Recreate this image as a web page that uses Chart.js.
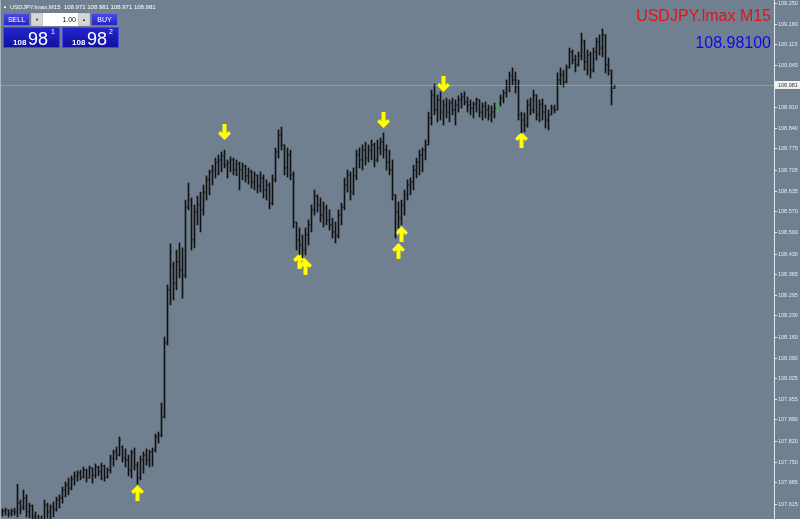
<!DOCTYPE html>
<html>
<head>
<meta charset="utf-8">
<script src="https://cdn.jsdelivr.net/npm/chart.js@4.4.0/dist/chart.umd.min.js"></script>
<style>
html, body { margin: 0; padding: 0; background: #708090; }
#wrap { position: relative; width: 800px; height: 519px; overflow: hidden; background: #708090; font-family: "Liberation Sans", Arial, sans-serif; }
#wrap canvas { position: absolute; left: 0; top: 0; }
#edge { position: absolute; left: 0; top: 0; width: 1px; height: 519px; background: #a9b4bf; }
#hdr { position: absolute; left: 3px; top: 3px; font-size: 6px; line-height: 7px; color: #fff; white-space: pre; }
#hdr .tri { font-size: 4px; margin-right: 3px; vertical-align: 1px; }
.btn { position: absolute; top: 13px; width: 27px; height: 13px; box-sizing: border-box; border: 1px solid #6b6bf2; background: linear-gradient(#4a4ae8, #2424c6); color: #fff; font-size: 7px; line-height: 11px; text-align: center; }
#sell { left: 3px; }
#buy { left: 91px; }
#vol { position: absolute; left: 31px; top: 13px; width: 59px; height: 13px; background: #c9c9c9; }
.spin { position: absolute; top: 1px; width: 10px; height: 11px; background: #d6d6d6; color: #222; font-size: 4px; line-height: 11px; text-align: center; }
#vfield { position: absolute; left: 12px; top: 0; width: 35px; height: 13px; box-sizing: border-box; padding-right: 2px; background: #fff; color: #111; font-size: 7px; line-height: 13px; text-align: right; }
.pbox { position: absolute; top: 27px; width: 57px; height: 21px; box-sizing: border-box; border: 1px solid #4a4ae2; background: linear-gradient(#2424cc, #1111a0); color: #fff; }
.pbox span { position: absolute; white-space: nowrap; }
.pbox .s { top: 11px; font-size: 8px; line-height: 8px; font-weight: bold; }
.pbox .b { top: 2px; font-size: 18px; line-height: 18px; }
.pbox .u { top: 0px; font-size: 7px; line-height: 7px; }
#sym { position: absolute; right: 29px; top: 8px; font-size: 16px; line-height: 16px; color: #e0141e; white-space: nowrap; }
#bid { position: absolute; right: 29px; top: 35px; font-size: 16px; line-height: 16px; color: #0a0ae6; white-space: nowrap; }
</style>
</head>
<body>
<div id="wrap">
  <canvas id="myChart"></canvas>
  <div id="edge"></div>
  <div id="hdr"><span class="tri">▲</span>USDJPY.lmax,M15  108.971 108.981 108.971 108.981</div>
  <div class="btn" id="sell">SELL</div>
  <div id="vol"><div class="spin" style="left:1px">▼</div><div id="vfield">1.00</div><div class="spin" style="left:48px">▲</div></div>
  <div class="btn" id="buy">BUY</div>
  <div class="pbox" style="left:3px"><span class="s" style="left:9px">108</span><span class="b" style="left:24px">98</span><span class="u" style="left:47px">1</span></div>
  <div class="pbox" style="left:62px"><span class="s" style="left:9px">108</span><span class="b" style="left:24px">98</span><span class="u" style="left:46px">2</span></div>
  <div id="sym">USDJPY.lmax M15</div>
  <div id="bid">108.98100</div>
</div>
<script>
// M15 bars, oldest first
let opens = [
  107.589, 107.592, 107.596, 107.586, 107.592, 107.589, 107.618, 107.605, 107.635, 107.592,
  107.609, 107.576, 107.553, 107.563, 107.560, 107.612, 107.589, 107.605, 107.599, 107.628,
  107.635, 107.661, 107.677, 107.667, 107.697, 107.707, 107.716, 107.703, 107.726, 107.700,
  107.733, 107.710, 107.736, 107.720, 107.739, 107.703, 107.726, 107.765, 107.785, 107.775,
  107.801, 107.765, 107.759, 107.726, 107.782, 107.742, 107.700, 107.759, 107.775, 107.759,
  107.785, 107.791, 107.834, 107.840, 107.899, 108.141, 108.314, 108.395, 108.336, 108.405,
  108.379, 108.363, 108.584, 108.607, 108.477, 108.568, 108.591, 108.575, 108.633, 108.673,
  108.699, 108.705, 108.731, 108.738, 108.751, 108.721, 108.728, 108.738, 108.705, 108.725,
  108.705, 108.718, 108.686, 108.699, 108.666, 108.689, 108.653, 108.679, 108.640, 108.656,
  108.597, 108.673, 108.764, 108.819, 108.787, 108.712, 108.754, 108.689, 108.535, 108.477,
  108.460, 108.444, 108.493, 108.526, 108.575, 108.620, 108.591, 108.558, 108.581, 108.542,
  108.526, 108.503, 108.490, 108.558, 108.584, 108.656, 108.689, 108.633, 108.686, 108.754,
  108.738, 108.770, 108.744, 108.770, 108.787, 108.738, 108.777, 108.796, 108.770, 108.731,
  108.705, 108.624, 108.568, 108.548, 108.591, 108.624, 108.656, 108.666, 108.705, 108.731,
  108.754, 108.770, 108.787, 108.875, 108.950, 108.901, 108.934, 108.894, 108.917, 108.894,
  108.924, 108.901, 108.917, 108.934, 108.943, 108.927, 108.917, 108.907, 108.920, 108.934,
  108.894, 108.914, 108.901, 108.885, 108.894, 108.894, 108.924, 108.940, 108.956, 108.982,
  109.012, 108.999, 108.979, 108.885, 108.868, 108.852, 108.917, 108.901, 108.950, 108.885,
  108.920, 108.894, 108.868, 108.885, 108.907, 108.901, 108.999, 109.015, 108.992, 109.038,
  109.090, 109.064, 109.048, 109.077, 109.123, 109.058, 109.080, 109.031, 109.090, 109.123,
  109.103, 109.146, 109.048, 109.031, 108.971
];
let highs = [
  107.599, 107.602, 107.596, 107.599, 107.602, 107.680, 107.628, 107.661, 107.645, 107.618,
  107.612, 107.589, 107.579, 107.576, 107.628, 107.618, 107.612, 107.622, 107.638, 107.645,
  107.671, 107.687, 107.700, 107.707, 107.720, 107.723, 107.726, 107.736, 107.729, 107.739,
  107.733, 107.746, 107.739, 107.749, 107.742, 107.733, 107.775, 107.791, 107.801, 107.834,
  107.805, 107.795, 107.775, 107.791, 107.798, 107.752, 107.772, 107.785, 107.795, 107.791,
  107.798, 107.844, 107.850, 107.945, 108.160, 108.330, 108.464, 108.405, 108.444, 108.467,
  108.451, 108.607, 108.663, 108.614, 108.591, 108.620, 108.633, 108.656, 108.686, 108.705,
  108.721, 108.744, 108.754, 108.764, 108.770, 108.738, 108.748, 108.744, 108.738, 108.731,
  108.728, 108.721, 108.712, 108.705, 108.699, 108.689, 108.699, 108.689, 108.673, 108.663,
  108.689, 108.777, 108.836, 108.845, 108.787, 108.777, 108.770, 108.699, 108.535, 108.516,
  108.493, 108.516, 108.542, 108.591, 108.640, 108.624, 108.614, 108.601, 108.591, 108.575,
  108.548, 108.535, 108.575, 108.597, 108.679, 108.705, 108.699, 108.712, 108.770, 108.777,
  108.787, 108.796, 108.787, 108.803, 108.793, 108.803, 108.810, 108.826, 108.787, 108.770,
  108.738, 108.624, 108.601, 108.607, 108.640, 108.673, 108.679, 108.721, 108.744, 108.770,
  108.777, 108.803, 108.894, 108.966, 108.986, 108.950, 108.960, 108.934, 108.940, 108.934,
  108.940, 108.934, 108.947, 108.956, 108.960, 108.943, 108.934, 108.927, 108.940, 108.934,
  108.924, 108.927, 108.917, 108.914, 108.924, 108.927, 108.950, 108.966, 108.999, 109.025,
  109.038, 109.025, 108.999, 108.894, 108.891, 108.934, 108.940, 108.966, 108.950, 108.934,
  108.937, 108.917, 108.901, 108.917, 108.917, 109.022, 109.038, 109.031, 109.048, 109.103,
  109.097, 109.080, 109.090, 109.152, 109.129, 109.097, 109.090, 109.103, 109.136, 109.146,
  109.165, 109.146, 109.071, 109.031, 108.981
];
let lows = [
  107.576, 107.579, 107.573, 107.576, 107.579, 107.573, 107.583, 107.596, 107.573, 107.570,
  107.557, 107.537, 107.530, 107.537, 107.557, 107.570, 107.566, 107.573, 107.592, 107.602,
  107.618, 107.638, 107.645, 107.661, 107.677, 107.690, 107.694, 107.700, 107.687, 107.700,
  107.684, 107.700, 107.707, 107.694, 107.690, 107.700, 107.716, 107.739, 107.759, 107.772,
  107.752, 107.736, 107.707, 107.700, 107.726, 107.680, 107.694, 107.716, 107.742, 107.736,
  107.739, 107.785, 107.814, 107.834, 107.896, 108.134, 108.265, 108.281, 108.314, 108.353,
  108.287, 108.353, 108.575, 108.444, 108.451, 108.526, 108.503, 108.558, 108.607, 108.624,
  108.656, 108.679, 108.689, 108.699, 108.712, 108.679, 108.699, 108.689, 108.686, 108.640,
  108.673, 108.666, 108.659, 108.646, 108.640, 108.630, 108.633, 108.614, 108.607, 108.578,
  108.591, 108.666, 108.744, 108.770, 108.689, 108.682, 108.673, 108.516, 108.444, 108.428,
  108.418, 108.428, 108.460, 108.503, 108.558, 108.568, 108.535, 108.519, 108.526, 108.509,
  108.483, 108.467, 108.483, 108.526, 108.575, 108.633, 108.607, 108.624, 108.673, 108.712,
  108.705, 108.721, 108.731, 108.738, 108.715, 108.731, 108.754, 108.744, 108.705, 108.689,
  108.607, 108.483, 108.516, 108.526, 108.558, 108.607, 108.624, 108.640, 108.679, 108.689,
  108.699, 108.738, 108.787, 108.852, 108.885, 108.862, 108.868, 108.852, 108.875, 108.862,
  108.885, 108.852, 108.894, 108.907, 108.917, 108.894, 108.885, 108.875, 108.894, 108.878,
  108.868, 108.875, 108.868, 108.862, 108.875, 108.891, 108.914, 108.924, 108.943, 108.960,
  108.982, 108.956, 108.868, 108.826, 108.829, 108.845, 108.885, 108.891, 108.868, 108.862,
  108.868, 108.842, 108.836, 108.885, 108.891, 108.901, 108.982, 108.976, 108.989, 109.038,
  109.051, 109.025, 109.044, 109.064, 109.031, 109.015, 109.005, 109.025, 109.064, 109.080,
  109.074, 109.022, 109.015, 108.917, 108.971
];
let closes = [
  107.592, 107.596, 107.583, 107.592, 107.589, 107.618, 107.602, 107.635, 107.589, 107.609,
  107.573, 107.550, 107.563, 107.557, 107.612, 107.589, 107.605, 107.596, 107.628, 107.635,
  107.661, 107.677, 107.667, 107.697, 107.707, 107.716, 107.703, 107.726, 107.700, 107.733,
  107.710, 107.736, 107.720, 107.739, 107.703, 107.726, 107.765, 107.785, 107.775, 107.824,
  107.765, 107.759, 107.726, 107.782, 107.742, 107.700, 107.759, 107.775, 107.759, 107.785,
  107.791, 107.834, 107.840, 107.899, 108.141, 108.314, 108.438, 108.336, 108.405, 108.379,
  108.363, 108.584, 108.624, 108.477, 108.568, 108.591, 108.575, 108.633, 108.673, 108.699,
  108.705, 108.731, 108.738, 108.751, 108.721, 108.728, 108.738, 108.705, 108.725, 108.705,
  108.718, 108.686, 108.699, 108.666, 108.689, 108.653, 108.679, 108.640, 108.656, 108.597,
  108.673, 108.764, 108.819, 108.787, 108.712, 108.754, 108.689, 108.535, 108.477, 108.460,
  108.444, 108.493, 108.526, 108.575, 108.620, 108.591, 108.558, 108.581, 108.542, 108.526,
  108.503, 108.490, 108.558, 108.584, 108.656, 108.689, 108.633, 108.686, 108.754, 108.738,
  108.770, 108.744, 108.770, 108.787, 108.738, 108.777, 108.796, 108.770, 108.731, 108.705,
  108.624, 108.568, 108.548, 108.591, 108.624, 108.656, 108.666, 108.705, 108.731, 108.754,
  108.770, 108.787, 108.875, 108.950, 108.901, 108.934, 108.894, 108.917, 108.894, 108.924,
  108.901, 108.917, 108.934, 108.943, 108.927, 108.917, 108.907, 108.920, 108.934, 108.894,
  108.914, 108.901, 108.885, 108.894, 108.907, 108.924, 108.940, 108.956, 108.982, 109.012,
  108.999, 108.979, 108.885, 108.868, 108.852, 108.917, 108.901, 108.950, 108.885, 108.920,
  108.894, 108.868, 108.885, 108.907, 108.901, 108.999, 109.015, 108.992, 109.038, 109.090,
  109.064, 109.048, 109.077, 109.129, 109.058, 109.080, 109.031, 109.090, 109.123, 109.103,
  109.146, 109.048, 109.031, 108.960, 108.981
];

// indicator arrows (bar index, price)
let upArrowBars = [45, 99, 101, 132, 133, 173];
let upArrowPrices = [107.651, 108.408, 108.389, 108.441, 108.496, 108.803];
let downArrowBars = [74, 127, 147];
let downArrowPrices = [108.829, 108.868, 108.986];

// price scale labels
let yTicks = [109.250, 109.180, 109.115, 109.045, 108.910, 108.840, 108.775, 108.705, 108.635, 108.570,
  108.500, 108.430, 108.365, 108.295, 108.230, 108.160, 108.090, 108.025, 107.955, 107.890,
  107.820, 107.750, 107.685, 107.615];
let yMin = 107.5663;
let yMax = 109.2598;

const greenBar = 165;
const barColor = i => i === greenBar ? '#2fbf3a' : '#111111';

function arrowImage(up) {
    const c = document.createElement('canvas');
    c.width = 13;
    c.height = 16;
    const g = c.getContext('2d');
    g.fillStyle = '#ffff00';
    g.beginPath();
    const pts = [[6.5, 0], [13, 6.5], [10.5, 9], [8.5, 7], [8.5, 16], [4.5, 16], [4.5, 7], [2.5, 9], [0, 6.5]];
    pts.forEach(([px, py], k) => {
        const yy = up ? py : 16 - py;
        if (k) g.lineTo(px, yy); else g.moveTo(px, yy);
    });
    g.closePath();
    g.fill();
    return c;
}

const lastClose = closes[closes.length - 1];

const priceTag = {
    id: 'priceTag',
    afterDraw(chart) {
        const s = chart.scales.y;
        const py = Math.round(s.getPixelForValue(lastClose));
        const c = chart.ctx;
        c.save();
        c.fillStyle = '#f2f2f2';
        c.fillRect(s.left + 1, py - 4, 26, 8);
        c.fillStyle = '#3a3a3a';
        c.font = '5.5px "Liberation Sans"';
        c.textBaseline = 'middle';
        c.fillText(lastClose.toFixed(3), s.left + 4, py + 0.5);
        c.restore();
    }
};

let ctx = document.getElementById('myChart').getContext('2d');
let chart = new Chart(ctx, {
    data: {
        datasets: [
            {
                type: 'line',
                data: [{ x: -1, y: lastClose }, { x: 258, y: lastClose }],
                borderColor: 'rgba(205,214,224,0.35)',
                borderWidth: 1,
                pointRadius: 0
            },
            {
                type: 'bar',
                data: highs.map((h, i) => ({ x: i, y: [lows[i], h] })),
                backgroundColor: c => barColor(c.dataIndex),
                borderWidth: 0,
                barThickness: 1,
                grouped: false
            },
            {
                type: 'line',
                data: opens.map((o, i) => ({ x: i, y: o })),
                showLine: false,
                pointStyle: 'dash',
                pointRadius: 1.2,
                pointRotation: 180,
                pointBorderWidth: 1,
                pointBorderColor: c => barColor(c.dataIndex),
                pointBackgroundColor: c => barColor(c.dataIndex)
            },
            {
                type: 'line',
                data: closes.map((v, i) => ({ x: i, y: v })),
                showLine: false,
                pointStyle: 'dash',
                pointRadius: 1.2,
                pointRotation: 0,
                pointBorderWidth: 1,
                pointBorderColor: c => barColor(c.dataIndex),
                pointBackgroundColor: c => barColor(c.dataIndex)
            },
            {
                type: 'line',
                data: upArrowBars.map((b, k) => ({ x: b, y: upArrowPrices[k] })),
                showLine: false,
                pointStyle: arrowImage(true),
                pointRadius: 6
            },
            {
                type: 'line',
                data: downArrowBars.map((b, k) => ({ x: b, y: downArrowPrices[k] })),
                showLine: false,
                pointStyle: arrowImage(false),
                pointRadius: 6
            }
        ]
    },
    options: {
        responsive: true,
        maintainAspectRatio: false,
        animation: false,
        events: [],
        layout: { padding: 0, autoPadding: false },
        plugins: { legend: { display: false }, tooltip: { enabled: false } },
        scales: {
            x: {
                type: 'linear',
                display: false,
                offset: false,
                min: -0.8333,
                max: 257.1667
            },
            y: {
                position: 'right',
                min: yMin,
                max: yMax,
                afterBuildTicks: s => { s.ticks = yTicks.map(v => ({ value: v })); },
                afterFit: s => { s.width = 26; s.paddingTop = 0; s.paddingBottom = 0; },
                border: { display: true, color: '#e4e9ef', width: 1 },
                grid: { drawOnChartArea: false, drawTicks: true, tickLength: 3, color: '#e4e9ef' },
                ticks: {
                    autoSkip: false,
                    padding: 1,
                    color: '#e6ebf0',
                    font: { size: 5.5, family: 'Liberation Sans' },
                    callback: v => v.toFixed(3)
                }
            }
        }
    },
    plugins: [priceTag]
});
</script>
</body>
</html>
